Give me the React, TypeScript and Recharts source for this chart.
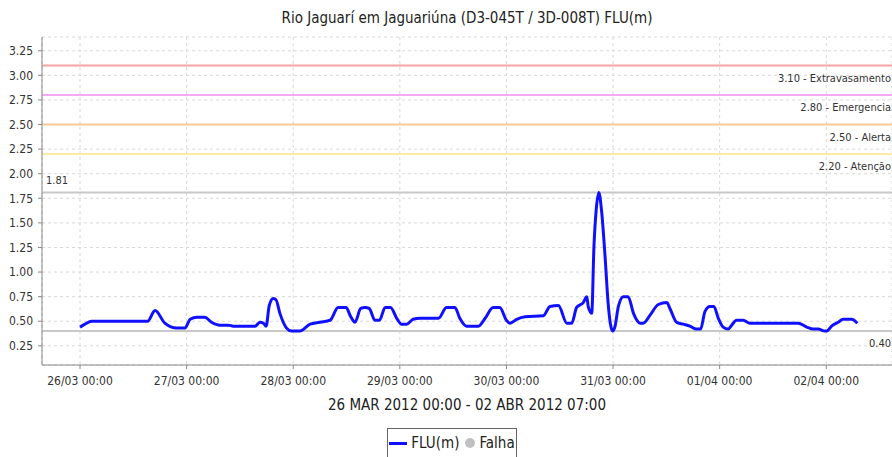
import { LineChart, Line, XAxis, YAxis, CartesianGrid, ReferenceLine } from 'recharts';

// hours since 26/03/2012 00:00
const hours = [
  0, 1.1, 2.6, 15.2, 16.9, 19.1, 21.8, 23.6, 24.8, 26.3, 28.1, 29.6, 31.5, 33.4, 34.5, 39.4,
  40.5, 41.3, 41.9, 42.6, 43.5, 44.1, 45.0, 46.5, 47.6, 49.5, 51.8, 54.0, 56.3, 58.1, 59.9,
  60.9, 61.9, 63.2, 64.2, 65.1, 66.4, 67.4, 68.7, 69.9, 71.3, 72.4, 73.5, 75.0, 76.5, 80.7,
  82.5, 84.4, 85.5, 87.0, 89.7, 91.2, 93.0, 94.5, 96.0, 96.8, 98.3, 100.2, 104.3, 105.8,
  107.7, 109.6, 110.7, 111.8, 113.3, 114.1, 114.4, 115.2, 115.7, 116.2, 116.8, 117.4, 118.2,
  118.9, 119.9, 120.4, 121.2, 122.3, 123.4, 124.6, 126.1, 126.8, 128.3, 130.2, 132.1, 132.8,
  134.3, 135.8, 137.3, 138.8, 139.7, 140.7, 141.8, 142.7, 143.7, 144.8, 145.9, 146.7, 147.8,
  149.3, 150.8, 161.7, 163.6, 165.1, 166.2, 167.7, 168.1, 169.2, 170.7, 171.8, 173.7, 175.0,
];
const flu = [
  0.44, 0.47, 0.50, 0.50, 0.61, 0.48, 0.43, 0.43, 0.52, 0.54, 0.54, 0.49, 0.46, 0.46, 0.45, 0.45,
  0.49, 0.48, 0.45, 0.66, 0.73, 0.72, 0.58, 0.43, 0.40, 0.40, 0.47, 0.49, 0.51, 0.64, 0.64,
  0.55, 0.49, 0.63, 0.64, 0.63, 0.51, 0.51, 0.64, 0.64, 0.53, 0.47, 0.47, 0.52, 0.53, 0.53,
  0.64, 0.64, 0.53, 0.45, 0.45, 0.53, 0.64, 0.64, 0.51, 0.48, 0.52, 0.545, 0.555, 0.65,
  0.66, 0.48, 0.48, 0.64, 0.69, 0.75, 0.65, 0.58, 1.26, 1.63, 1.81, 1.63, 1.16,
  0.68, 0.40, 0.44, 0.65, 0.75, 0.75, 0.58, 0.48, 0.48, 0.56, 0.67, 0.69, 0.63,
  0.49, 0.47, 0.45, 0.42, 0.42, 0.60, 0.65, 0.65, 0.53, 0.44, 0.42, 0.46, 0.51,
  0.51, 0.48, 0.48, 0.44, 0.42, 0.42, 0.40, 0.40, 0.45, 0.49, 0.52, 0.52, 0.48,
];

const xTicks = [0, 24, 48, 72, 96, 120, 144, 168];
const xTickLabels = ['26/03 00:00', '27/03 00:00', '28/03 00:00', '29/03 00:00', '30/03 00:00', '31/03 00:00', '01/04 00:00', '02/04 00:00'];
const yTicks = [0.25, 0.5, 0.75, 1, 1.25, 1.5, 1.75, 2, 2.25, 2.5, 2.75, 3, 3.25];

const levels = [3.1, 2.8, 2.5, 2.2];
const levelNames = ['Extravasamento', 'Emergencia', 'Alerta', 'Atenção'];
const levelColors = ['#f5a3a3', '#f5a8f5', '#f8c89a', '#fbeba6'];
const maxValue = 1.81;
const minValue = 0.4;

const data = hours.map((h, i) => ({ h, flu: flu[i] }));

const FONT = '"DejaVu Sans Condensed", "DejaVu Sans", sans-serif';

const rightLabel = (text: string) => (props: any) => {
  const vb = props.viewBox;
  return (
    <text x={vb.x + vb.width - 1} y={vb.y + 16} textAnchor="end" fontSize={11} fill="#333" fontFamily={FONT}>
      {text}
    </text>
  );
};

const leftLabel = (text: string) => (props: any) => {
  const vb = props.viewBox;
  return (
    <text x={vb.x + 4} y={vb.y - 8} textAnchor="start" fontSize={11} fill="#333" fontFamily={FONT}>
      {text}
    </text>
  );
};

export default function App() {
  return (
    <div style={{ position: 'absolute', left: 0, top: 0, width: 892, height: 457, background: '#fff', fontFamily: FONT, overflow: 'hidden' }}>
      <div style={{ position: 'absolute', top: 9, left: 42, width: 850, textAlign: 'center', fontSize: 15, color: '#222' }}>
        Rio Jaguarí em Jaguariúna (D3-045T / 3D-008T) FLU(m)
      </div>

      <LineChart width={892} height={457} data={data} margin={{ top: 37, right: 0, left: 0, bottom: 44 }}>
        <CartesianGrid stroke="#d8d8d8" strokeDasharray="3 3" />
        <XAxis
          xAxisId="top"
          orientation="top"
          dataKey="h"
          type="number"
          domain={[-8.56, 182.8]}
          tick={false}
          tickLine={false}
          height={0}
          stroke="#c8c8c8"
        />
        <XAxis
          dataKey="h"
          type="number"
          domain={[-8.56, 182.8]}
          ticks={xTicks}
          tickFormatter={(v: number) => xTickLabels[xTicks.indexOf(v)]}
          tick={{ fontSize: 12, fill: '#333', fontFamily: FONT }}
          tickSize={4}
          tickMargin={7}
          stroke="#888"
          height={48}
          label={{ value: '26 MAR 2012 00:00 - 02 ABR 2012 07:00', position: 'insideBottom', offset: 3, fontSize: 15, fill: '#222', fontFamily: FONT }}
        />
        <YAxis
          type="number"
          domain={[0.055, 3.39]}
          ticks={yTicks}
          tickFormatter={(v: number) => v.toFixed(2)}
          tick={{ fontSize: 12, fill: '#333', fontFamily: FONT }}
          tickSize={4}
          tickMargin={5}
          stroke="#888"
          width={42}
        />
        {levels.map((lv, i) => (
          <ReferenceLine
            key={lv}
            y={lv}
            stroke={levelColors[i]}
            strokeWidth={2}
            label={rightLabel(`${lv.toFixed(2)} - ${levelNames[i]}`)}
          />
        ))}
        <ReferenceLine y={maxValue} stroke="#c8c8c8" strokeWidth={2} label={leftLabel(maxValue.toFixed(2))} />
        <ReferenceLine y={minValue} stroke="#c8c8c8" strokeWidth={2} label={rightLabel(minValue.toFixed(2))} />
        <Line
          type="monotone"
          dataKey="flu"
          stroke="#1010ff"
          strokeWidth={3}
          dot={false}
          isAnimationActive={false}
        />
      </LineChart>

      <div
        style={{
          position: 'absolute',
          left: 387,
          top: 428,
          width: 130,
          height: 30,
          border: '1px solid #666',
          display: 'flex',
          alignItems: 'center',
          justifyContent: 'center',
          fontSize: 15,
          color: '#222',
          boxSizing: 'border-box',
        }}
      >
        <span style={{ display: 'inline-block', width: 18, height: 3, background: '#1010ff', marginRight: 4 }} />
        <span>FLU(m)</span>
        <span style={{ display: 'inline-block', width: 10, height: 10, borderRadius: 5, background: '#c0c0c0', marginLeft: 6, marginRight: 4 }} />
        <span>Falha</span>
      </div>
    </div>
  );
}
